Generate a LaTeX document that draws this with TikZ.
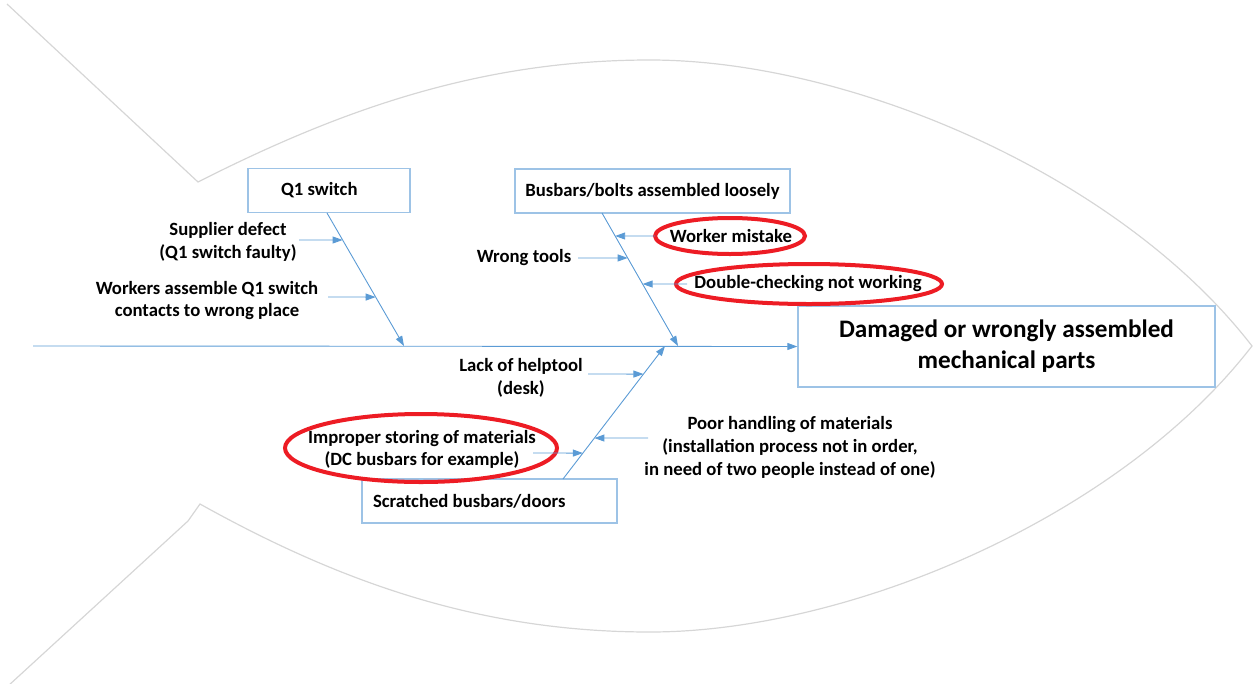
\documentclass[tikz,border=0pt]{standalone}
\usepackage{fontspec}
\setmainfont{Carlito}
\usetikzlibrary{arrows.meta,calc}
\definecolor{bone}{RGB}{91,155,213}
\definecolor{boxline}{RGB}{157,195,230}
\definecolor{outline}{RGB}{214,214,214}
\definecolor{mark}{RGB}{237,28,36}
\begin{document}
\begin{tikzpicture}[x=1pt,y=-1pt,
  cause/.style={font=\fontsize{18.7}{22.8}\selectfont\bfseries, align=center, inner sep=0pt, text=black},
  catbox/.style={draw=boxline, line width=1.3pt, fill=white, inner ysep=0pt,
    font=\fontsize{18.7}{22.8}\selectfont\bfseries, minimum height=44pt},
  effectbox/.style={draw=boxline, line width=1.3pt, fill=white, inner sep=0pt, align=center,
    font=\fontsize{25.2}{31}\selectfont\bfseries, minimum width=417pt, minimum height=81pt},
  arr/.style={draw=bone, line width=0.9pt, -{Triangle[length=10pt,width=7pt]}},
  ring/.style={draw=mark, line width=4pt},
  fish/.style={draw=outline, line width=1.2pt}]
\useasboundingbox (0,0) rectangle (1253,683);

% fish outline: tail and body
\draw[fish] (7,4) -- (198,182)
  .. controls (340,110) and (480,60) .. (650,60)
  .. controls (850,60) and (1120,175) .. (1252,346)
  .. controls (1120,517) and (850,632) .. (650,632)
  .. controls (480,632) and (340,582) .. (200,504)
  -- (188,521) -- (8,686);

% category boxes and effect box
\node[catbox, minimum width=162pt, text width=96pt, inner xsep=33pt, align=flush left] (q1) at (329,190.5) {Q1 switch};
\node[catbox, minimum width=275pt, inner xsep=0pt] (bb) at (652.5,191) {Busbars/bolts assembled loosely};
\node[catbox, minimum width=255pt, text width=233pt, inner xsep=11pt, align=flush left] (sc) at (489.5,501) {Scratched busbars/doors};
\node[effectbox] (effect) at (1006.5,346.5) {Damaged or wrongly assembled\\mechanical parts};

% bone end points
\coordinate (tail) at (33,346);
\coordinate (q1foot) at (327,213);
\coordinate (q1head) at (404,346);
\coordinate (bbfoot) at (602,213);
\coordinate (bbhead) at (678,346);
\coordinate (scfoot) at (563,479);
\coordinate (schead) at (665,346);

% spine and main bones
\draw[arr] (tail) -- (effect.west);
\draw[arr] (q1foot) -- (q1head);
\draw[arr] (bbfoot) -- (bbhead);
\draw[arr] (scfoot) -- (schead);

% highlight rings
\draw[ring] (730,236) ellipse [x radius=75pt, y radius=18pt];
\draw[ring] (809,284) ellipse [x radius=133pt, y radius=20pt];
\draw[ring] (421,448) ellipse [x radius=136pt, y radius=34pt];

% causes
\node[cause] (c1) at (228,242) {Supplier defect\\(Q1 switch faulty)};
\node[cause] (c2) at (207,300.5) {Workers assemble Q1 switch\\contacts to wrong place};
\node[cause] (c3) at (524,258) {Wrong tools};
\node[cause] (c4) at (731,236) {Worker mistake};
\node[cause] (c5) at (808,284) {Double-checking not working};
\node[cause] (c6) at (521,378) {Lack of helptool\\(desk)};
\node[cause] (c7) at (422,449.5) {Improper storing of materials\\(DC busbars for example)};
\node[cause] (c8) at (790,447.5) {Poor handling of materials\\(installation process not in order,\\in need of two people instead of one)};

% cause arrow tails
\coordinate (a1) at (299,240);
\coordinate (a2) at (328,297);
\coordinate (a3) at (578,258);
\coordinate (a4) at (655,236);
\coordinate (a5) at (687,284);
\coordinate (a6) at (588,374);
\coordinate (a7) at (533,453);
\coordinate (a8) at (648,438);

% cause arrows onto bones
\draw[arr] (a1) -- ($(q1foot)!0.203!(q1head)$);
\draw[arr] (a2) -- ($(q1foot)!0.632!(q1head)$);
\draw[arr] (a3) -- ($(bbfoot)!0.338!(bbhead)$);
\draw[arr] (a4) -- ($(bbfoot)!0.173!(bbhead)$);
\draw[arr] (a5) -- ($(bbfoot)!0.534!(bbhead)$);
\draw[arr] (a6) -- ($(scfoot)!0.789!(schead)$);
\draw[arr] (a7) -- ($(scfoot)!0.195!(schead)$);
\draw[arr] (a8) -- ($(scfoot)!0.308!(schead)$);
\end{tikzpicture}
\end{document}
